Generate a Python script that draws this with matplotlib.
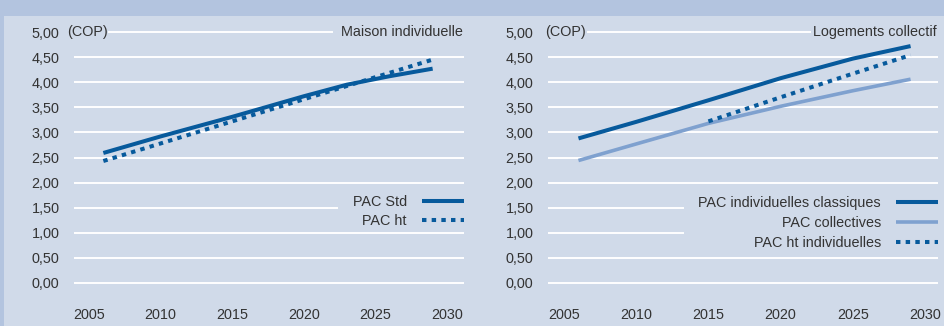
import matplotlib
matplotlib.use("Agg")
import matplotlib.pyplot as plt
from matplotlib.patches import Rectangle
from matplotlib.transforms import blended_transform_factory

# --- data -------------------------------------------------------------
years_std = [2006, 2010, 2015, 2020, 2023, 2026, 2029]
pac_std = [2.59, 2.92, 3.31, 3.72, 3.95, 4.12, 4.27]

years_ht = [2006, 2010, 2015, 2020, 2025, 2029]
pac_ht = [2.43, 2.78, 3.22, 3.66, 4.10, 4.45]

years_coll = [2006, 2010, 2015, 2020, 2025, 2029]
pac_indiv_classiques = [2.88, 3.21, 3.64, 4.08, 4.47, 4.72]
pac_collectives = [2.44, 2.77, 3.18, 3.52, 3.83, 4.06]

years_ht_indiv = [2015, 2020, 2025, 2029]
pac_ht_indiv = [3.22, 3.70, 4.17, 4.54]

y_ticks = [0.0, 0.5, 1.0, 1.5, 2.0, 2.5, 3.0, 3.5, 4.0, 4.5, 5.0]
x_ticks = [2005, 2010, 2015, 2020, 2025, 2030]

# --- style ------------------------------------------------------------
BAND = "#b3c4df"
PANEL = "#d0dae9"
DARK = "#075a9c"
LIGHT = "#7fa1cf"
TEXT = "#333333"
FS = 10.4

plt.rcParams["font.family"] = ["Liberation Sans", "DejaVu Sans"]
plt.rcParams["font.size"] = FS

W, H = 944, 326
fig = plt.figure(figsize=(W / 100, H / 100), dpi=100, facecolor=PANEL)
# darker frame band along the top and left edges
fig.patches.append(Rectangle((0, (H - 16) / H), 1, 16 / H,
                             transform=fig.transFigure, facecolor=BAND,
                             edgecolor="none", zorder=-10))
fig.patches.append(Rectangle((0, 0), 4 / W, 1,
                             transform=fig.transFigure, facecolor=BAND,
                             edgecolor="none", zorder=-10))


def px_axes(x0, x1, y0, y1):
    return fig.add_axes([x0 / W, (H - y1) / H, (x1 - x0) / W, (y1 - y0) / H])


ax1 = px_axes(74, 464, 28, 287)
ax2 = px_axes(548, 938, 28, 287)


def style_axes(ax, xlim, breaks):
    ax.set_facecolor("none")
    ax.set_xlim(*xlim)
    ax.set_ylim(-0.08, 5.08)
    for s in ax.spines.values():
        s.set_visible(False)
    ax.set_xticks(x_ticks)
    ax.set_xticklabels([str(t) for t in x_ticks])
    ax.set_yticks(y_ticks)
    ax.set_yticklabels([f"{t:.2f}".replace(".", ",") for t in y_ticks])
    ax.tick_params(axis="both", length=0, colors=TEXT, labelsize=FS)
    ax.tick_params(axis="y", pad=10.5)
    ax.tick_params(axis="x", pad=15)
    for v in y_ticks:
        lo, hi = breaks.get(v, (0, 1))
        ax.axhline(v, lo, hi, color="white", lw=1.4, zorder=1)


style_axes(ax1, (2003.95, 2031.19), {5.0: (0.0897, 0.6615), 1.5: (0, 0.674)})
style_axes(ax2, (2003.89, 2030.90), {5.0: (0.1026, 0.672), 1.5: (0, 0.346),
                                     1.0: (0, 0.346)})

# Maison individuelle
ax1.plot(years_std, pac_std, color=DARK, lw=2.9, solid_capstyle="butt",
         label="PAC Std", zorder=3)
ax1.plot(years_ht, pac_ht, color=DARK, lw=2.9, ls=(0, (1.1, 1.3)),
         label="PAC ht", zorder=3)

# Logements collectif
ax2.plot(years_coll, pac_indiv_classiques, color=DARK, lw=2.9,
         solid_capstyle="butt", label="PAC individuelles classiques", zorder=3)
ax2.plot(years_coll, pac_collectives, color=LIGHT, lw=2.6,
         solid_capstyle="butt", label="PAC collectives", zorder=2)
ax2.plot(years_ht_indiv, pac_ht_indiv, color=DARK, lw=2.9, ls=(0, (1.1, 1.3)),
         label="PAC ht individuelles", zorder=3)

for ax, title, cop_x in ((ax1, "Maison individuelle", -0.018),
                         (ax2, "Logements collectif", -0.008)):
    tr = blended_transform_factory(ax.transAxes, ax.transData)
    ax.text(cop_x, 5.0, "(COP)", transform=tr, ha="left", va="center",
            color=TEXT, fontsize=FS)
    ax.text(0.997, 5.0, title, transform=tr, ha="right", va="center",
            color=TEXT, fontsize=FS)

leg_kw = dict(loc="upper right", frameon=False, markerfirst=False,
              borderpad=0, borderaxespad=0, handlelength=2.92,
              handletextpad=1.04, fontsize=FS, labelcolor=TEXT)
ax1.legend(bbox_to_anchor=(1.0, 0.356), labelspacing=0.35, **leg_kw)
ax2.legend(bbox_to_anchor=(1.0, 0.352), labelspacing=0.41, **leg_kw)

fig.savefig("out.png", dpi=100)
